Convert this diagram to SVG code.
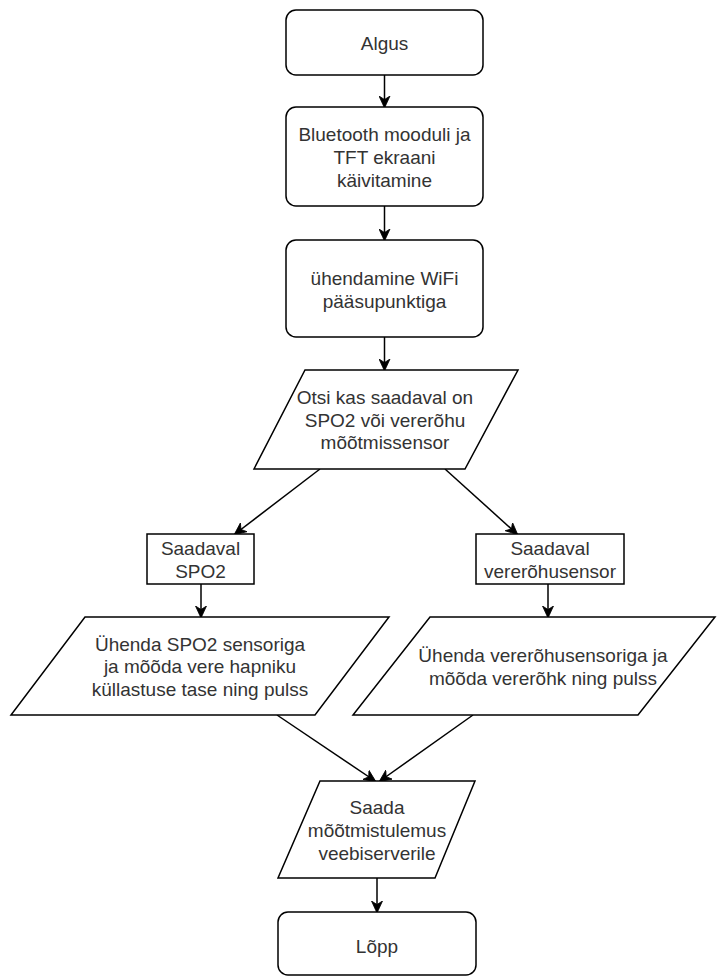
<svg xmlns="http://www.w3.org/2000/svg" width="726" height="976" viewBox="0 0 726 976">
<defs>
<style>
.shape{fill:#ffffff;stroke:#000000;stroke-width:1.5}
.conn{fill:none;stroke:#000000;stroke-width:1.5;marker-end:url(#arr)}
.t{font-family:"Liberation Sans",Arial,Helvetica,sans-serif;font-size:19px;fill:#333333;text-anchor:middle}
</style>
<marker id="arr" viewBox="0 0 12 12" refX="11" refY="6" markerWidth="12" markerHeight="12" markerUnits="userSpaceOnUse" orient="auto">
<path d="M0,0.5 L12,6 L0,11.5 L3.5,6 Z" fill="#000000" stroke="#000000" stroke-width="0.8"/>
</marker>
</defs>
<rect width="726" height="976" fill="#ffffff"/>
<g id="connectors">
<line class="conn" x1="384.5" y1="75" x2="384.5" y2="107"/>
<line class="conn" x1="384.5" y1="206" x2="384.5" y2="240"/>
<line class="conn" x1="384.5" y1="337" x2="384.5" y2="370"/>
<line class="conn" x1="320" y1="469" x2="235" y2="534"/>
<line class="conn" x1="445" y1="469" x2="517" y2="534"/>
<line class="conn" x1="201" y1="584" x2="201" y2="617"/>
<line class="conn" x1="548" y1="584" x2="548" y2="617"/>
<line class="conn" x1="277" y1="715" x2="375" y2="781"/>
<line class="conn" x1="473" y1="715" x2="380" y2="781"/>
<line class="conn" x1="377" y1="878" x2="377" y2="912"/>
</g>
<g id="algus">
<rect class="shape" x="286" y="10" width="197" height="65" rx="10"/>
<text class="t" x="384.5" y="50">Algus</text>
</g>
<g id="kaivitamine">
<rect class="shape" x="286" y="107" width="197" height="99" rx="10"/>
<text class="t" x="384.5" y="141">Bluetooth mooduli ja</text>
<text class="t" x="384.5" y="164">TFT ekraani</text>
<text class="t" x="384.5" y="187">käivitamine</text>
</g>
<g id="wifi">
<rect class="shape" x="286" y="240" width="197" height="97" rx="10"/>
<text class="t" x="384.5" y="285">ühendamine WiFi</text>
<text class="t" x="384.5" y="308">pääsupunktiga</text>
</g>
<g id="otsi">
<polygon class="shape" points="305,370 518,370 465,469 254,469"/>
<text class="t" x="385" y="404">Otsi kas saadaval on</text>
<text class="t" x="385" y="427">SPO2 või vererõhu</text>
<text class="t" x="385" y="449">mõõtmissensor</text>
</g>
<g id="saadaval-spo2">
<rect class="shape" x="147" y="534" width="107" height="50"/>
<text class="t" x="200.5" y="555">Saadaval</text>
<text class="t" x="200.5" y="578">SPO2</text>
</g>
<g id="saadaval-vererohu">
<rect class="shape" x="476" y="534" width="148" height="50"/>
<text class="t" x="550" y="555">Saadaval</text>
<text class="t" x="550" y="578">vererõhusensor</text>
</g>
<g id="uhenda-spo2">
<polygon class="shape" points="85,617 389,617 315,715 11,715"/>
<text class="t" x="200" y="650.5">Ühenda SPO2 sensoriga</text>
<text class="t" x="200" y="673">ja mõõda vere hapniku</text>
<text class="t" x="200" y="695.5">küllastuse tase ning pulss</text>
</g>
<g id="uhenda-vererohu">
<polygon class="shape" points="430,617 715,617 638,715 353,715"/>
<text class="t" x="543" y="662">Ühenda vererõhusensoriga ja</text>
<text class="t" x="543" y="684.5">mõõda vererõhk ning pulss</text>
</g>
<g id="saada">
<polygon class="shape" points="320,781 475,781 435,878 278,878"/>
<text class="t" x="377" y="814">Saada</text>
<text class="t" x="377" y="837">mõõtmistulemus</text>
<text class="t" x="377" y="860">veebiserverile</text>
</g>
<g id="lopp">
<rect class="shape" x="278" y="912" width="198" height="63" rx="10"/>
<text class="t" x="377" y="953">Lõpp</text>
</g>
</svg>
